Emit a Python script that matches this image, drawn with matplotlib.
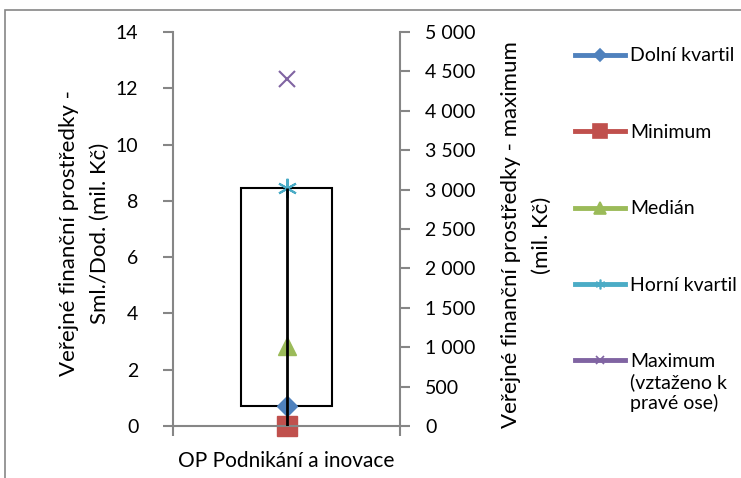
import matplotlib
matplotlib.use("Agg")
import matplotlib.pyplot as plt
from matplotlib.lines import Line2D
from matplotlib.patches import Rectangle
from matplotlib.ticker import FuncFormatter

plt.rcParams['font.family'] = ['Lato', 'DejaVu Sans']
plt.rcParams['font.size'] = 14

categories = ["OP Podnikání a inovace"]
dolni_kvartil = [0.7]
minimum = [0.0]
median = [2.85]
horni_kvartil = [8.45]
maximum = [4400]

labels = ["Dolní kvartil", "Minimum", "Medián", "Horní kvartil",
          "Maximum\n(vztaženo k\npravé ose)"]
colors = ["#4F81BD", "#C0504D", "#9BBB59", "#4BACC6", "#8064A2"]
grey = "#868686"

fig = plt.figure(figsize=(7.41, 4.78), dpi=100)
ax = fig.add_axes([173 / 741, 1 - 426 / 478, 227 / 741, 394 / 478])
ax2 = ax.twinx()

x = list(range(len(categories)))

# box between quartiles, line from minimum to upper quartile
q_height = [h - d for h, d in zip(horni_kvartil, dolni_kvartil)]
ax.bar(x, q_height, bottom=dolni_kvartil, width=0.4, facecolor="white",
       edgecolor="black", linewidth=1.5, zorder=1)
ax.plot(x, dolni_kvartil, linestyle="none", marker="D", markersize=10,
        color=colors[0], zorder=2)
ax.plot(x, minimum, linestyle="none", marker="s", markersize=14,
        color=colors[1], zorder=2, clip_on=False)
ax.plot(x, median, linestyle="none", marker="^", markersize=13,
        color=colors[2], zorder=2)
ax.plot(x, horni_kvartil, linestyle="none", marker=(6, 2, 0), markersize=14,
        markeredgewidth=1.5, color=colors[3], zorder=2)
ax.vlines(x, minimum, horni_kvartil, color="black", linewidth=2, zorder=3)
ax2.plot(x, maximum, linestyle="none", marker="x", markersize=11,
         markeredgewidth=1.5, color=colors[4])

ax.set_xlim(-0.5, 0.5)
ax.set_ylim(0, 14)
ax.set_yticks(range(0, 15, 2))
ax2.set_ylim(0, 5000)
ax2.set_yticks(range(0, 5001, 500))
ax2.yaxis.set_major_formatter(
    FuncFormatter(lambda v, p: f"{int(v):,}".replace(",", " ")))

ax.set_xticks([-0.5, 0.5])
ax.set_xticklabels(["", ""])
ax.set_xticks(x, minor=True)
ax.set_xticklabels(categories, minor=True, fontsize=15)
ax.tick_params(axis="x", which="minor", length=0, pad=18)
ax.tick_params(axis="x", which="major", length=7, color=grey, width=1.5)
ax.tick_params(axis="y", length=7, color=grey, width=1.5, pad=18)
ax2.tick_params(axis="y", length=7, color=grey, width=1.5, pad=11)

for a in (ax, ax2):
    for s in a.spines.values():
        s.set_color(grey)
        s.set_linewidth(1.5)
    a.spines["top"].set_visible(False)
ax.spines["right"].set_visible(False)
ax2.spines["left"].set_visible(False)
ax2.spines["bottom"].set_visible(False)

ax.set_ylabel("Veřejné finanční prostředky -\nSml./Dod. (mil. Kč)",
              fontsize=16, linespacing=1.65)
ax.yaxis.set_label_coords(-0.28, 0.49)
ax2.set_ylabel("Veřejné finanční prostředky - maximum\n(mil. Kč)",
               fontsize=16, linespacing=1.65)
ax2.yaxis.set_label_coords(1.445, 0.485)

markers = ["D", "s", "^", (6, 2, 0), "x"]
msizes = [6, 10, 8, 7, 6]
handles = [Line2D([], [], color=c, lw=3.5, marker=m, markersize=s,
                  markeredgewidth=1.2)
           for c, m, s in zip(colors, markers, msizes)]
leg = fig.legend(handles, labels, loc="upper left",
                 bbox_to_anchor=(0.765, 0.917), frameon=False,
                 labelspacing=3.06, handlelength=2.6, handletextpad=0.25,
                 borderaxespad=0)
# handle next to the first line of the multi-line label, as in Excel
leg._legend_handle_box.get_children()[0].get_children()[-1].align = "top"

# outer chart border
fig.add_artist(Rectangle((5 / 741, -0.1), 1.2, 1.1 - 10 / 478,
                         transform=fig.transFigure, fill=False,
                         edgecolor=grey, linewidth=1.2))

fig.savefig("out.png", dpi=100)
